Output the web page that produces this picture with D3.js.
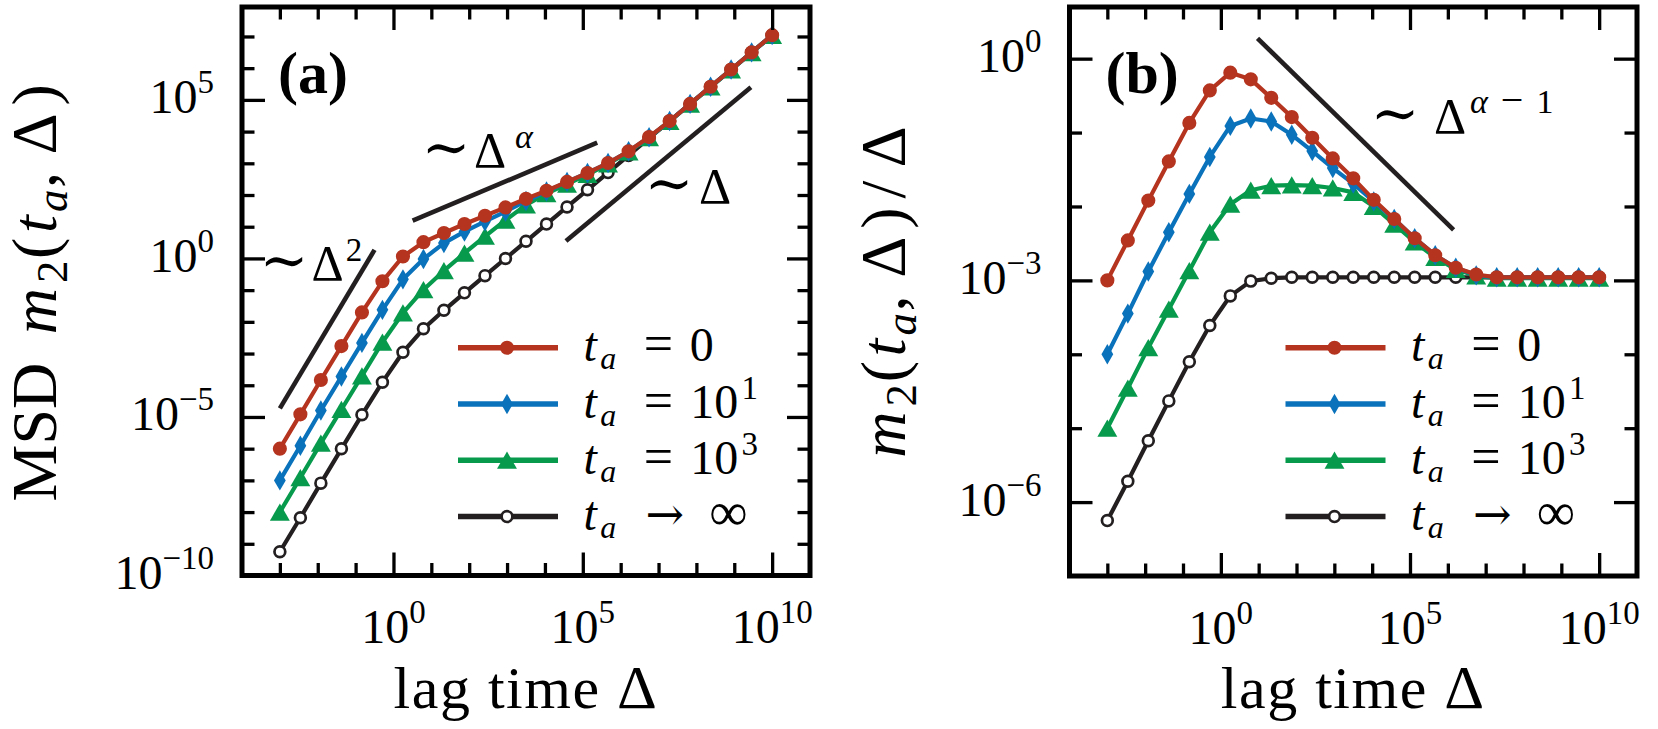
<!DOCTYPE html>
<html><head><meta charset="utf-8">
<script src="https://cdn.jsdelivr.net/npm/d3@7/dist/d3.min.js"></script>
<style>
html,body{margin:0;padding:0;background:#fff;}
svg{display:block;}
text{font-family:"Liberation Serif","DejaVu Serif",serif;fill:#000;}
</style></head><body>
<svg id="chart" width="1658" height="729"></svg>
<script>
// ---------------- data ----------------
const lagTimes = [1.0e-3, 3.48e-3, 1.21e-2, 4.22e-2, 0.147, 0.511, 1.78, 6.19, 21.5, 75.0, 261, 909, 3162,
  1.10e4, 3.83e4, 1.33e5, 4.64e5, 1.62e6, 5.62e6, 1.96e7, 6.81e7, 2.37e8, 8.25e8, 2.87e9, 1.0e10];

// panel (a): MSD m2(t_a, Δ)
const msdAge0 = [1.0e-6, 1.21e-5, 1.46e-4, 1.72e-3, 1.98e-2, 0.190, 1.15, 3.25, 6.35, 12.2, 22.2, 40.6, 75.9,
  136, 259, 495, 1.02e3, 2.39e3, 6.76e3, 2.15e4, 7.46e4, 2.60e5, 9.06e5, 3.15e6, 1.10e7];
const msdAge1 = [1.0e-7, 1.24e-6, 1.60e-5, 1.88e-4, 2.17e-3, 2.39e-2, 0.219, 0.959, 3.04, 7.00, 14.7, 30.1, 64.6,
  129, 259, 495, 1.02e3, 2.39e3, 6.61e3, 2.15e4, 7.46e4, 2.60e5, 9.06e5, 3.15e6, 1.10e7];
const msdAge3 = [1.0e-8, 1.21e-7, 1.49e-6, 1.72e-5, 1.98e-4, 2.28e-3, 1.91e-2, 0.103, 0.410, 1.46, 4.98, 16.1, 49.0,
  110, 220, 442, 948, 2.28e3, 6.46e3, 2.10e4, 7.29e4, 2.54e5, 8.85e5, 3.08e6, 1.07e7];
const msdAgeInf = [5.62e-10, 6.64e-9, 8.18e-8, 9.89e-7, 1.17e-5, 1.25e-4, 1.10e-3, 6.05e-3, 2.31e-2, 8.22e-2, 0.286, 0.995, 3.47,
  12.1, 42.0, 146, 509, 1.77e3, 6.17e3, 2.15e4, 7.46e4, 2.60e5, 9.06e5, 3.15e6, 1.10e7];

// panel (b): m2(t_a, Δ)/Δ
const ratioAge0 = [1.0e-3, 3.47e-3, 1.20e-2, 4.07e-2, 0.135, 0.372, 0.646, 0.525, 0.295, 0.162, 8.51e-2, 4.47e-2, 2.40e-2,
  1.23e-2, 6.76e-3, 3.72e-3, 2.19e-3, 1.48e-3, 1.20e-3, 1.10e-3, 1.10e-3, 1.10e-3, 1.10e-3, 1.10e-3, 1.10e-3];
const ratioAge1 = [1.0e-4, 3.55e-4, 1.32e-3, 4.47e-3, 1.48e-2, 4.68e-2, 0.123, 0.155, 0.141, 9.33e-2, 5.62e-2, 3.31e-2, 2.04e-2,
  1.17e-2, 6.76e-3, 3.72e-3, 2.19e-3, 1.48e-3, 1.17e-3, 1.10e-3, 1.10e-3, 1.10e-3, 1.10e-3, 1.10e-3, 1.10e-3];
const ratioAge3 = [1.0e-5, 3.47e-5, 1.23e-4, 4.07e-4, 1.35e-3, 4.47e-3, 1.07e-2, 1.66e-2, 1.91e-2, 1.95e-2, 1.91e-2, 1.78e-2, 1.55e-2,
  1.0e-2, 5.75e-3, 3.31e-3, 2.04e-3, 1.41e-3, 1.15e-3, 1.07e-3, 1.07e-3, 1.07e-3, 1.07e-3, 1.07e-3, 1.07e-3];
const ratioAgeInf = [5.62e-7, 1.91e-6, 6.76e-6, 2.34e-5, 7.94e-5, 2.45e-4, 6.17e-4, 9.77e-4, 1.07e-3, 1.10e-3, 1.10e-3, 1.10e-3, 1.10e-3,
  1.10e-3, 1.10e-3, 1.10e-3, 1.10e-3, 1.10e-3, 1.10e-3, 1.10e-3, 1.10e-3, 1.10e-3, 1.10e-3, 1.10e-3, 1.10e-3];

// legend: t_a values
const ageLabels = ["0", "10^1", "10^3", "inf"];

// tick exponents
const xTickExponents = [-3,-2,-1,0,1,2,3,4,5,6,7,8,9,10];
const xLabelExponents = [0, 5, 10];
const yTickExponentsA = [-9,-8,-7,-6,-5,-4,-3,-2,-1,0,1,2,3,4,5,6,7];
const yLabelExponentsA = [5, 0, -5, -10];
const yTickExponentsB = [-6,-5,-4,-3,-2,-1,0];
const yLabelExponentsB = [0, -3, -6];

// guide lines (scaling laws)
const guideBallistic = [[1e-3, 1.86e-5], [0.316, 1.86]];      // ~Δ^2
const guideSubdiff   = [[3.21, 15.5], [2.4e5, 4467]];         // ~Δ^α
const guideNormal    = [[3.59e4, 3.55], [2.75e9, 2.51e5]];    // ~Δ
const guideRatio     = [[9.33, 1.88], [1.42e6, 4.82e-3]];     // ~Δ^(α-1)

// ---------------- styles / layout ----------------
const colors = {age0:"#b5341f", age1:"#0a72bb", age3:"#079a4d", inf:"#231f20"};
const svg = d3.select("#chart");
const SYM = '"DejaVu Serif", serif';

function fmtExp(e){ return (e < 0 ? "\u2212" + (-e) : "" + e); }

function symbolPath(type){
  if (type === "circle") return d3.symbol(d3.symbolCircle, Math.PI*50)();
  if (type === "diamond") return d3.symbol(d3.symbolDiamond, 120)();
  if (type === "triangle") return d3.symbol(d3.symbolTriangle, 172)();
  return d3.symbol(d3.symbolCircle, Math.PI*5.4*5.4)();
}
function drawMarker(g, type, color, x, y){
  const dy = type === "triangle" ? 2.8 : 0;
  const p = g.append("path").attr("d", symbolPath(type))
    .attr("transform", `translate(${x},${y + dy})`);
  if (type === "open") p.attr("fill", "#fff").attr("stroke", color).attr("stroke-width", 2.7);
  else p.attr("fill", color);
}

function drawParts(g, X, Y, parts){
  const t = g.append("text").attr("text-anchor", "middle");
  parts.forEach(p => {
    const ts = t.append("tspan").attr("x", X + p.cx).attr("y", Y + (p.dy || 0))
      .style("font-size", p.size + "px")
      .style("font-style", p.it ? "italic" : "normal")
      .text(p.t);
    if (p.f) ts.style("font-family", p.f);
  });
  return t;
}
// slot-based math text, centered at 0, baseline 0
function drawSlots(g, parts, F){
  const total = d3.sum(parts, p => p.w * F * (p.s || 1));
  let x = -total / 2;
  const t = g.append("text").attr("text-anchor", "middle");
  parts.forEach(p => {
    const fs = F * (p.s || 1), w = p.w * fs;
    if (p.t) t.append("tspan").attr("x", x + w/2).attr("y", (p.dy || 0) * F)
      .style("font-size", fs + "px").style("font-style", p.it ? "italic" : "normal").text(p.t);
    x += w;
  });
  return t;
}

const panels = [
  { id:"(a)", box:{x0:242, x1:810, y0:7, y1:575.5}, yDomain:[1e-10, 8.5e7],
    yTicks:yTickExponentsA, yMajor:e => e % 5 === 0, yLabels:yLabelExponentsA,
    series:[{v:msdAgeInf, c:colors.inf, m:"open"}, {v:msdAge3, c:colors.age3, m:"triangle"},
            {v:msdAge1, c:colors.age1, m:"diamond"}, {v:msdAge0, c:colors.age0, m:"circle"}],
    guides:[guideBallistic, guideSubdiff, guideNormal],
    ylabel:{x:56, y:293, parts:[{t:"MSD",w:2.237},{t:"",w:.333},{t:"m",w:.878,it:1},{t:"2",w:.5,s:.7,dy:.17},
      {t:"(",w:.389},{t:"t",w:.361,it:1},{t:"a",w:.529,s:.7,dy:.17,it:1},{t:",",w:.278},{t:"",w:.167},
      {t:"\u0394",w:.833},{t:")",w:.389}]},
    ann:[
      {y:280, parts:[{t:"\u223c",cx:284,size:58,f:SYM},{t:"\u0394",cx:327.5,size:50},{t:"2",cx:354,size:33,dy:-19}]},
      {y:167, parts:[{t:"\u223c",cx:446,size:58,f:SYM},{t:"\u0394",cx:490,size:50},{t:"\u03b1",cx:524,size:34,dy:-19,it:1}]},
      {y:203, parts:[{t:"\u223c",cx:669,size:58,f:SYM},{t:"\u0394",cx:715,size:50}]}
    ]},
  { id:"(b)", box:{x0:1069.5, x1:1637, y0:7, y1:576}, yDomain:[1e-7, 5],
    yTicks:yTickExponentsB, yMajor:e => e % 3 === 0, yLabels:yLabelExponentsB,
    series:[{v:ratioAgeInf, c:colors.inf, m:"open"}, {v:ratioAge3, c:colors.age3, m:"triangle"},
            {v:ratioAge1, c:colors.age1, m:"diamond"}, {v:ratioAge0, c:colors.age0, m:"circle"}],
    guides:[guideRatio],
    ylabel:{x:905, y:291.5, parts:[{t:"m",w:.878,it:1},{t:"2",w:.5,s:.7,dy:.17},
      {t:"(",w:.389},{t:"t",w:.361,it:1},{t:"a",w:.529,s:.7,dy:.17,it:1},{t:",",w:.278},{t:"",w:.167},
      {t:"\u0394",w:.833},{t:")",w:.389},{t:"/",w:.5},{t:"\u0394",w:.833}]},
    ann:[
      {y:133, parts:[{t:"\u223c",cx:1395,size:58,f:SYM},{t:"\u0394",cx:1450,size:50},
        {t:"\u03b1",cx:1479,size:34,dy:-20,it:1},{t:"\u2212",cx:1512,size:40,dy:-20},{t:"1",cx:1545,size:34,dy:-20}]}
    ]}
];

panels.forEach(P => {
  const b = P.box;
  const g = svg.append("g");
  const x = d3.scaleLog().domain([1e-4, 1e11]).range([b.x0, b.x1]);
  const y = d3.scaleLog().domain(P.yDomain).range([b.y1, b.y0]);

  // guides
  const gl = d3.line().x(d => x(d[0])).y(d => y(d[1]));
  P.guides.forEach(gd => g.append("path").attr("d", gl(gd)).attr("fill","none")
    .attr("stroke","#231f20").attr("stroke-width",4.6));

  // series
  const line = d3.line().x((d,i) => x(lagTimes[i])).y(d => y(d));
  P.series.forEach(s => {
    g.append("path").attr("d", line(s.v)).attr("fill","none").attr("stroke", s.c)
      .attr("stroke-width", 4.2).attr("stroke-linejoin","round");
    s.v.forEach((v,i) => drawMarker(g, s.m, s.c, x(lagTimes[i]), y(v)));
  });

  // ticks via d3 axes (inward)
  const xv = xTickExponents.map(e => Math.pow(10, e));
  const yv = P.yTicks.map(e => Math.pow(10, e));
  const isMajX = d => xLabelExponents.includes(Math.round(Math.log10(d)));
  const isMajY = d => P.yMajor(Math.round(Math.log10(d)));
  const axes = [
    [d3.axisBottom(x), `translate(0,${b.y1})`, xv.filter(d=>!isMajX(d)), xv.filter(isMajX)],
    [d3.axisTop(x), `translate(0,${b.y0})`, xv.filter(d=>!isMajX(d)), xv.filter(isMajX)],
    [d3.axisLeft(y), `translate(${b.x0},0)`, yv.filter(d=>!isMajY(d)), yv.filter(isMajY)],
    [d3.axisRight(y), `translate(${b.x1},0)`, yv.filter(d=>!isMajY(d)), yv.filter(isMajY)]
  ];
  axes.forEach(([ax, tr, minor, major]) => {
    [[minor, -12.5], [major, -23]].forEach(([vals, len]) => {
      const a = g.append("g").attr("transform", tr)
        .call(ax.tickValues(vals).tickSize(len).tickSizeOuter(0).tickFormat(""));
      a.select(".domain").remove();
      a.selectAll("line").attr("stroke","#000").attr("stroke-width",3.3);
      a.selectAll("text").remove();
    });
  });

  // tick labels
  xLabelExponents.forEach(e => {
    const t = g.append("text").attr("x", x(Math.pow(10,e))).attr("y", b.y1 + 67.5)
      .attr("text-anchor","middle").style("font-size","48px");
    t.append("tspan").text("10");
    t.append("tspan").attr("dy",-20).style("font-size","33px").text(fmtExp(e));
  });
  P.yLabels.forEach(e => {
    const t = g.append("text").attr("x", b.x0 - 28).attr("y", y(Math.pow(10,e)) + 13.5)
      .attr("text-anchor","end").style("font-size","48px");
    t.append("tspan").text("10");
    t.append("tspan").attr("dy",-20).style("font-size","33px").text(fmtExp(e));
  });

  // axis labels
  const xl = g.append("text").attr("x", (b.x0+b.x1)/2).attr("y", 708).attr("text-anchor","middle")
    .style("font-size","60px").style("letter-spacing","1.5px");
  xl.append("tspan").text("lag time ");
  xl.append("tspan").text("\u0394").style("font-size","62px");
  const yl = g.append("g").attr("transform", `translate(${P.ylabel.x},${P.ylabel.y}) rotate(-90)`);
  drawSlots(yl, P.ylabel.parts, 64);

  // panel id
  g.append("text").attr("x", b.x0 + 36).attr("y", 93).style("font-size","60px")
    .style("font-weight","bold").text(P.id);

  // annotations
  P.ann.forEach(a => drawParts(g, 0, a.y, a.parts));

  // legend
  const lg = g.append("g");
  ageLabels.forEach((lab, i) => {
    const ry = b.y0 + 340.7 + i * 56.3;
    const s = P.series[3 - i];
    lg.append("line").attr("x1", b.x0 + 216).attr("x2", b.x0 + 316).attr("y1", ry).attr("y2", ry)
      .attr("stroke", s.c).attr("stroke-width", 5.5);
    drawMarker(lg, s.m, s.c, b.x0 + 265, ry);
    const X = b.x0 + 339.7, Y = ry + 13.5;
    const parts = [{t:"t",cx:8.5,size:48,it:1},{t:"a",cx:26.5,size:32,dy:8,it:1}];
    if (lab === "inf") {
      parts.push({t:"\u2192",cx:83,size:46,f:SYM},{t:"\u221e",cx:146.7,size:54});
    } else if (lab === "0") {
      parts.push({t:"=",cx:76.7,size:52},{t:"0",cx:120,size:48});
    } else {
      parts.push({t:"=",cx:76.7,size:52},{t:"10",cx:132.5,size:48},{t:lab.split("^")[1],cx:168,size:33,dy:-19});
    }
    drawParts(lg, X, Y, parts);
  });

  // frame
  g.append("rect").attr("x", b.x0).attr("y", b.y0).attr("width", b.x1 - b.x0).attr("height", b.y1 - b.y0)
    .attr("fill","none").attr("stroke","#000").attr("stroke-width",5);
});
</script>
</body></html>
